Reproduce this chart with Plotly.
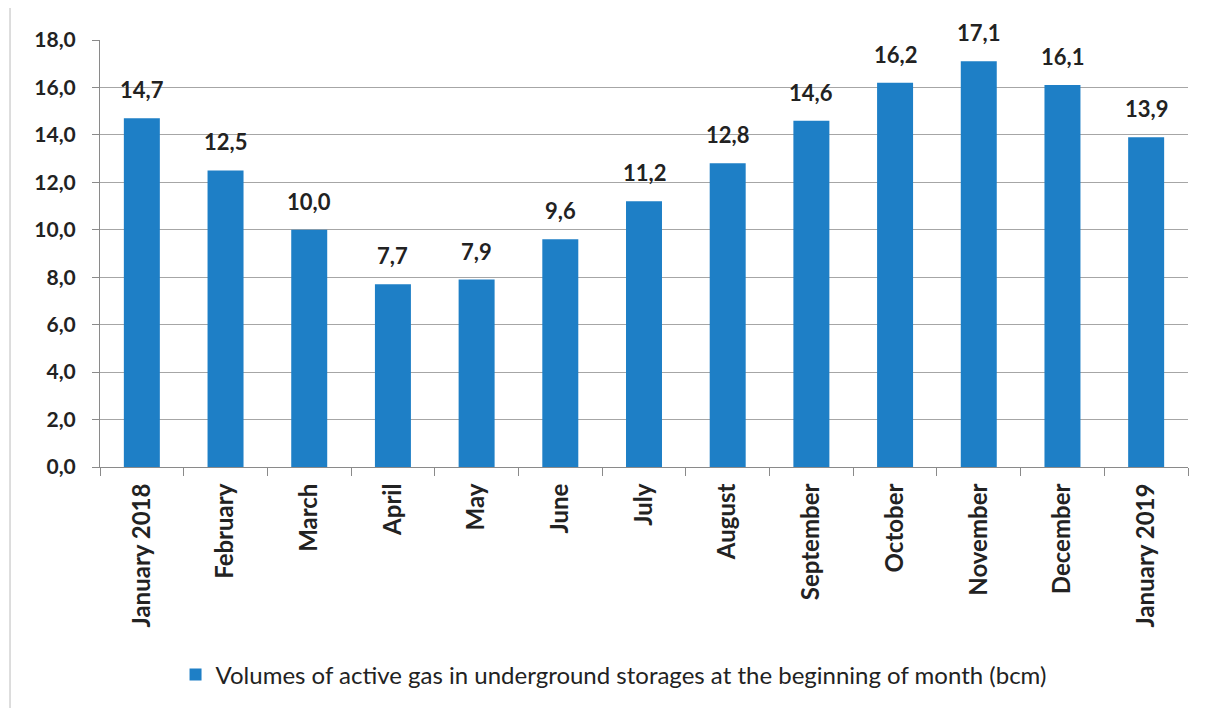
import plotly.graph_objects as go

categories = ["January 2018", "February", "March", "April", "May", "June", "July",
              "August", "September", "October", "November", "December", "January 2019"]
values = [14.7, 12.5, 10.0, 7.7, 7.9, 9.6, 11.2, 12.8, 14.6, 16.2, 17.1, 16.1, 13.9]
series_name = "Volumes of active gas in underground storages at the beginning of month (bcm)"
y_ticks = [0, 2, 4, 6, 8, 10, 12, 14, 16, 18]

BAR = "#1e7fc6"
FONT = "Lato"

fig = go.Figure()
fig.add_trace(go.Bar(x=categories, y=values, name=series_name, marker_color=BAR,
                     marker_line_width=0, showlegend=True))

for c, v in zip(categories, values):
    fig.add_annotation(x=c, y=v, text=f"{v:.1f}".replace(".", ","), showarrow=False,
                       yanchor="bottom", yshift=13,
                       font=dict(family=FONT, size=22, color="#222222", weight="bold"))

fig.update_layout(
    width=1206, height=708,
    margin=dict(l=92, r=26, t=32, b=249),
    paper_bgcolor="white", plot_bgcolor="white",
    separators=", ",
    bargap=0.57,
    showlegend=True,
    legend=dict(orientation="h", x=0.472, xanchor="center", y=-0.487, yanchor="middle",
                font=dict(family=FONT, size=24, color="#222222")),
    xaxis=dict(showgrid=False, showline=True, linecolor="#8a8a8a", linewidth=1,
               ticks="outside", tickson="boundaries", ticklen=8, tickcolor="#8a8a8a",
               tickangle=-90, ticklabelstandoff=6,
               tickfont=dict(family=FONT, size=24, color="#222222", weight="bold")),
    yaxis=dict(range=[0, 18], tickvals=y_ticks, tickformat=".1f",
               showgrid=True, gridcolor="#a6a6a6", gridwidth=1,
               showline=True, linecolor="#8a8a8a", linewidth=1,
               ticks="outside", ticklen=7, tickcolor="#8a8a8a", ticklabelstandoff=12,
               zeroline=False,
               tickfont=dict(family=FONT, size=21, color="#222222", weight="bold")),
    shapes=[dict(type="line", xref="paper", yref="paper", x0=-0.0827, x1=-0.0827, y0=-0.58, y1=1.1,
                 line=dict(color="#bbbbbb", width=1))],
)

fig.write_html("out.html")
